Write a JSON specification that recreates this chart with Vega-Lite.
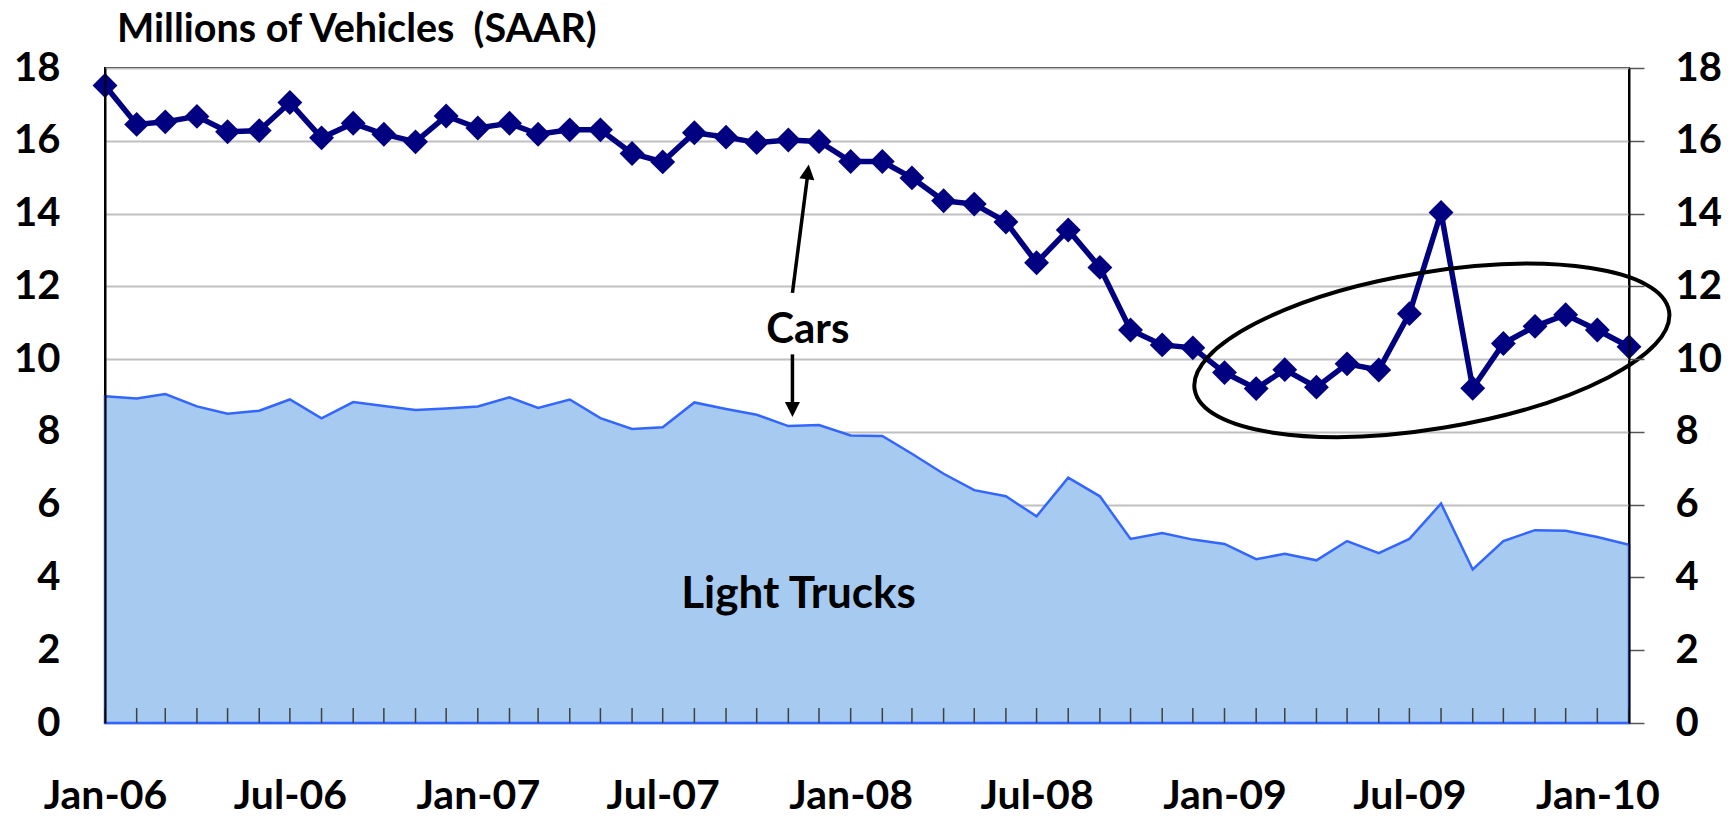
{
  "$schema": "https://vega.github.io/schema/vega-lite/v6.json",
  "width": 1524,
  "height": 655,
  "autosize": {"type": "none"},
  "padding": {"left": 105, "top": 68, "right": 104, "bottom": 96},
  "background": "#ffffff",
  "view": {"stroke": "#000000", "strokeWidth": 2},
  "config": {
    "font": "Lato",
    "axis": {"labelFont": "Lato", "labelFontWeight": "bold", "labelColor": "#000000", "title": null}
  },
  "datasets": {
    "sales": [
      {"date": "2006-01-01", "cars": 17.52, "trucks": 8.98},
      {"date": "2006-02-01", "cars": 16.45, "trucks": 8.92},
      {"date": "2006-03-01", "cars": 16.52, "trucks": 9.04},
      {"date": "2006-04-01", "cars": 16.67, "trucks": 8.70},
      {"date": "2006-05-01", "cars": 16.25, "trucks": 8.50},
      {"date": "2006-06-01", "cars": 16.28, "trucks": 8.58},
      {"date": "2006-07-01", "cars": 17.05, "trucks": 8.89},
      {"date": "2006-08-01", "cars": 16.08, "trucks": 8.37},
      {"date": "2006-09-01", "cars": 16.48, "trucks": 8.82},
      {"date": "2006-10-01", "cars": 16.18, "trucks": 8.71},
      {"date": "2006-11-01", "cars": 15.97, "trucks": 8.60},
      {"date": "2006-12-01", "cars": 16.68, "trucks": 8.64},
      {"date": "2007-01-01", "cars": 16.35, "trucks": 8.70},
      {"date": "2007-02-01", "cars": 16.48, "trucks": 8.95},
      {"date": "2007-03-01", "cars": 16.18, "trucks": 8.66},
      {"date": "2007-04-01", "cars": 16.30, "trucks": 8.89},
      {"date": "2007-05-01", "cars": 16.30, "trucks": 8.38},
      {"date": "2007-06-01", "cars": 15.65, "trucks": 8.08},
      {"date": "2007-07-01", "cars": 15.42, "trucks": 8.13},
      {"date": "2007-08-01", "cars": 16.22, "trucks": 8.81},
      {"date": "2007-09-01", "cars": 16.10, "trucks": 8.63},
      {"date": "2007-10-01", "cars": 15.95, "trucks": 8.47},
      {"date": "2007-11-01", "cars": 16.02, "trucks": 8.16},
      {"date": "2007-12-01", "cars": 15.98, "trucks": 8.19},
      {"date": "2008-01-01", "cars": 15.43, "trucks": 7.90},
      {"date": "2008-02-01", "cars": 15.43, "trucks": 7.89},
      {"date": "2008-03-01", "cars": 14.98, "trucks": 7.40},
      {"date": "2008-04-01", "cars": 14.35, "trucks": 6.85},
      {"date": "2008-05-01", "cars": 14.26, "trucks": 6.40},
      {"date": "2008-06-01", "cars": 13.77, "trucks": 6.23},
      {"date": "2008-07-01", "cars": 12.65, "trucks": 5.68},
      {"date": "2008-08-01", "cars": 13.55, "trucks": 6.74},
      {"date": "2008-09-01", "cars": 12.52, "trucks": 6.23},
      {"date": "2008-10-01", "cars": 10.80, "trucks": 5.06},
      {"date": "2008-11-01", "cars": 10.39, "trucks": 5.22},
      {"date": "2008-12-01", "cars": 10.31, "trucks": 5.04},
      {"date": "2009-01-01", "cars": 9.63, "trucks": 4.92},
      {"date": "2009-02-01", "cars": 9.19, "trucks": 4.50},
      {"date": "2009-03-01", "cars": 9.71, "trucks": 4.65},
      {"date": "2009-04-01", "cars": 9.23, "trucks": 4.47},
      {"date": "2009-05-01", "cars": 9.87, "trucks": 5.00},
      {"date": "2009-06-01", "cars": 9.70, "trucks": 4.67},
      {"date": "2009-07-01", "cars": 11.25, "trucks": 5.06},
      {"date": "2009-08-01", "cars": 14.03, "trucks": 6.03},
      {"date": "2009-09-01", "cars": 9.20, "trucks": 4.22},
      {"date": "2009-10-01", "cars": 10.43, "trucks": 5.00},
      {"date": "2009-11-01", "cars": 10.90, "trucks": 5.30},
      {"date": "2009-12-01", "cars": 11.22, "trucks": 5.28},
      {"date": "2010-01-01", "cars": 10.80, "trucks": 5.11},
      {"date": "2010-02-01", "cars": 10.34, "trucks": 4.90}
    ],
    "arrows": [
      {"date": "2007-11-05", "value": 11.82, "date2": "2007-11-20", "value2": 15.08},
      {"date": "2007-11-05", "value": 10.13, "date2": "2007-11-05", "value2": 8.70}
    ],
    "heads": [
      {"date": "2007-11-21", "value": 15.35, "dir": 7.3},
      {"date": "2007-11-05", "value": 8.41, "dir": 180}
    ],
    "carsLabel": [
      {"date": "2007-11-20", "value": 10.45, "text": "Cars"}
    ],
    "trucksLabel": [
      {"date": "2007-11-11", "value": 3.16, "text": "Light Trucks"}
    ],
    "heading": [
      {"date": "2006-01-01", "value": 18.72, "text": "Millions of Vehicles \u00a0(SAAR)"}
    ],
    "ring": [
      {"date": "2009-07-23", "value": 10.24}
    ]
  },
  "layer": [
    {
      "data": {"name": "sales"},
      "mark": {"type": "area", "fill": "#a6caf0", "stroke": "#3366ff", "strokeWidth": 2.5, "opacity": 1, "line": false},
      "encoding": {
        "x": {
          "field": "date", "type": "temporal",
          "scale": {"type": "utc", "domain": [{"year": 2006, "month": 1, "date": 1, "utc": true}, {"year": 2010, "month": 2, "date": 1, "utc": true}], "nice": false},
          "axis": {
            "orient": "bottom", "domain": false, "grid": false,
            "ticks": false, "tickSize": 0,
            "values": [
              {"year": 2006, "month": 1, "date": 1, "utc": true}, {"year": 2006, "month": 7, "date": 1, "utc": true},
              {"year": 2007, "month": 1, "date": 1, "utc": true}, {"year": 2007, "month": 7, "date": 1, "utc": true},
              {"year": 2008, "month": 1, "date": 1, "utc": true}, {"year": 2008, "month": 7, "date": 1, "utc": true},
              {"year": 2009, "month": 1, "date": 1, "utc": true}, {"year": 2009, "month": 7, "date": 1, "utc": true},
              {"year": 2010, "month": 1, "date": 1, "utc": true}
            ],
            "labelExpr": "utcFormat(datum.value, '%b-%y')",
            "labelOverlap": false, "labelFlush": false, "labelBound": false,
            "labelFontSize": 41, "labelBaseline": "alphabetic", "labelPadding": 85, "labelAlign": "center"
          }
        },
        "y": {
          "field": "trucks", "type": "quantitative",
          "scale": {"domain": [0, 18], "nice": false, "zero": true},
          "axis": {
            "orient": "left", "zindex": 0, "values": [0, 2, 4, 6, 8, 10, 12, 14, 16, 18],
            "grid": true, "gridColor": "#c0c0c0", "gridWidth": 2,
            "domain": false, "ticks": false, "tickSize": 0, "labels": false
          }
        }
      }
    },
    {
      "data": {"name": "sales"},
      "mark": {"type": "rule", "color": "#404040", "strokeWidth": 1.5},
      "encoding": {
        "x": {"field": "date", "type": "temporal"},
        "y": {"datum": 0, "type": "quantitative", "axis": null},
        "y2": {"datum": 0.41}
      }
    },
    {
      "data": {"name": "sales"},
      "mark": {
        "type": "line", "color": "#000080", "strokeWidth": 5.5,
        "point": {"shape": "diamond", "size": 620, "filled": true, "fill": "#000080", "opacity": 1}
      },
      "encoding": {
        "x": {"field": "date", "type": "temporal"},
        "y": {
          "field": "cars", "type": "quantitative",
          "axis": {
            "orient": "right", "zindex": 1, "values": [0, 2, 4, 6, 8, 10, 12, 14, 16, 18],
            "grid": false, "domain": true, "domainColor": "#000000", "domainWidth": 2,
            "ticks": true, "tickSize": 15, "tickColor": "#555555", "tickWidth": 1.5,
            "labelFontSize": 40, "labelPadding": 31, "labelAlign": "left", "labelBaseline": "middle",
            "labelFlush": false, "labelOverlap": false, "labelBound": false
          }
        }
      }
    },
    {
      "data": {"name": "ring"},
      "mark": {
        "type": "point", "filled": false, "stroke": "#000000", "strokeWidth": 4, "opacity": 1,
        "size": 231200, "angle": 350.6,
        "shape": "M-1,0C-1,-0.1797,-0.5523,-0.3253,0,-0.3253C0.5523,-0.3253,1,-0.1797,1,0C1,0.1797,0.5523,0.3253,0,0.3253C-0.5523,0.3253,-1,0.1797,-1,0Z"
      },
      "encoding": {
        "x": {"field": "date", "type": "temporal"},
        "y": {"field": "value", "type": "quantitative", "axis": null}
      }
    },
    {
      "data": {"name": "arrows"},
      "mark": {"type": "rule", "color": "#000000", "strokeWidth": 3.5},
      "encoding": {
        "x": {"field": "date", "type": "temporal"},
        "y": {"field": "value", "type": "quantitative", "axis": null},
        "x2": {"field": "date2"},
        "y2": {"field": "value2"}
      }
    },
    {
      "data": {"name": "heads"},
      "mark": {"type": "point", "filled": true, "fill": "#000000", "strokeWidth": 0, "opacity": 1, "size": 900, "shape": "M0,0L0.5,1L-0.5,1Z"},
      "encoding": {
        "x": {"field": "date", "type": "temporal"},
        "y": {"field": "value", "type": "quantitative", "axis": null},
        "angle": {"field": "dir", "type": "quantitative", "scale": null}
      }
    },
    {
      "data": {"name": "heading"},
      "mark": {"type": "text", "font": "Lato", "fontWeight": "bold", "fontSize": 39.5, "color": "#000000", "align": "left", "baseline": "alphabetic", "dx": 12},
      "encoding": {
        "x": {"field": "date", "type": "temporal"},
        "y": {"field": "value", "type": "quantitative", "axis": null},
        "text": {"field": "text"}
      }
    },
    {
      "data": {"name": "trucksLabel"},
      "mark": {"type": "text", "font": "Lato", "fontWeight": "bold", "fontSize": 44, "color": "#000000", "align": "center", "baseline": "alphabetic"},
      "encoding": {
        "x": {"field": "date", "type": "temporal"},
        "y": {"field": "value", "type": "quantitative", "axis": null},
        "text": {"field": "text"}
      }
    },
    {
      "data": {"name": "carsLabel"},
      "mark": {"type": "text", "font": "Lato", "fontWeight": "bold", "fontSize": 42, "color": "#000000", "align": "center", "baseline": "alphabetic"},
      "encoding": {
        "x": {"field": "date", "type": "temporal"},
        "y": {
          "field": "value", "type": "quantitative",
          "axis": {
            "orient": "left", "zindex": 1, "values": [0, 2, 4, 6, 8, 10, 12, 14, 16, 18],
            "grid": false, "domain": true, "domainColor": "#000000", "domainWidth": 2,
            "ticks": false, "tickSize": 0,
            "labelFontSize": 40, "labelPadding": 45, "labelAlign": "right", "labelBaseline": "middle",
            "labelFlush": false, "labelOverlap": false, "labelBound": false
          }
        },
        "text": {"field": "text"}
      }
    }
  ]
}
